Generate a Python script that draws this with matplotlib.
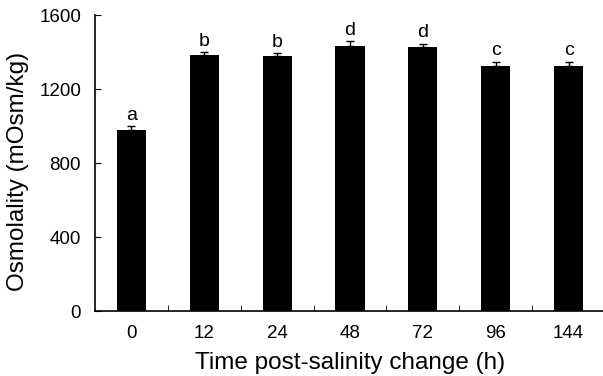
import matplotlib.pyplot as plt
import numpy as np

times = ['0', '12', '24', '48', '72', '96', '144']
osmolality = [978, 1383, 1380, 1430, 1429, 1326, 1326]
sem = [20, 15, 16, 27, 16, 22, 22]
letters = ['a', 'b', 'b', 'd', 'd', 'c', 'c']

plt.rcParams['font.family'] = ['Liberation Sans', 'DejaVu Sans']

fig = plt.figure(figsize=(6.03, 3.76), dpi=100)
ax = fig.add_axes([95 / 603, 1 - 311 / 376, 510 / 603, 296 / 376])

x = np.arange(len(times))
ax.bar(x, osmolality, width=0.4, color='black',
       yerr=[np.zeros(len(sem)), sem], capsize=3,
       error_kw=dict(ecolor='black', elinewidth=1, capthick=1))

for xi, v, e, lab in zip(x, osmolality, sem, letters):
    ax.text(xi, v + e + 12, lab, ha='center', va='bottom', fontsize=14)

ax.set_xlim(-0.5, 6.5)
ax.set_ylim(0, 1600)
ax.set_yticks([0, 400, 800, 1200, 1600])
ax.set_xticks(x)
ax.set_xticklabels(times)
ax.set_xticks(x[:-1] + 0.5, minor=True)
ax.tick_params(axis='x', which='major', length=0, pad=10, labelsize=13.5)
ax.tick_params(axis='x', which='minor', direction='in', length=4)
ax.tick_params(axis='y', direction='in', length=4, pad=10, labelsize=13.5)

ax.spines['top'].set_visible(False)
ax.spines['right'].set_visible(False)
ax.spines['left'].set_linewidth(1.2)
ax.spines['bottom'].set_linewidth(1.2)

ax.set_xlabel('Time post-salinity change (h)', fontsize=17.5, labelpad=7)
ax.set_ylabel('Osmolality (mOsm/kg)', fontsize=17.5)
ax.yaxis.set_label_coords(-0.13, 0.47)

fig.savefig('out.png', dpi=100)
